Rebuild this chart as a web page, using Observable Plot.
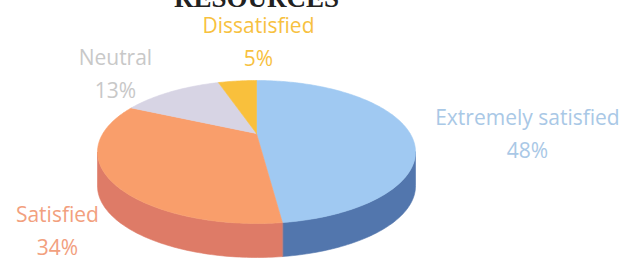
<!DOCTYPE html>
<html><head><meta charset="utf-8">
<script src="https://cdn.jsdelivr.net/npm/d3@7"></script>
<script src="https://cdn.jsdelivr.net/npm/@observablehq/plot@0.6"></script>
<style>
  html,body{margin:0;padding:0;background:#fff;}
  #chart svg{display:block;overflow:hidden;}
</style>
</head><body><div id="chart"></div>
<script>
// ---- data ----
const title = "RESOURCES";
const categories = ["Extremely satisfied", "Satisfied", "Neutral", "Dissatisfied"];
const values = [48, 34, 13, 5];

// ---- styles ----
const topColors   = ["#a0c9f2", "#f99e6b", "#d7d4e4", "#f9c03c"];
const sideColors  = ["#5276ad", "#de7b67", "#b4b0c2", "#d9a12a"];
const labelColors = ["#a9c8e6", "#f2a07e", "#c8c8c8", "#f7c13f"];
// label nudges (in radius units) relative to each slice's mid-angle rim point
const labelNudge = [[0.706, 0.14], [-0.443, 0.85], [-0.226, -0.012], [0.169, -0.222]];

// ---- layout ----
const W = 632, H = 259;
const CX = 256, CY = 151.5, RX = 159, RY = 71.5, DEPTH = 34;
const D = DEPTH / RY;
const APEX = -0.259;                  // perspective: where the pie centre lands (tanh t)
const T = Math.atanh(APEX), CH = Math.cosh(T), SH = Math.sinh(T);

// perspective (projective) map of the unit disk onto itself
function proj(a, dv) {
  const X = Math.sin(a), Y = -Math.cos(a);
  const w = Y * SH + CH;
  return {u: X / w, v: (Y * CH + SH) / w + dv};
}
const centre = {u: 0, v: SH / CH};

const arcs = d3.pie().sort(null)(values);
const step = Math.PI / 180;
function arcPts(a0, a1, dv) {
  const n = Math.max(2, Math.ceil((a1 - a0) / step));
  const pts = [];
  for (let i = 0; i <= n; i++) pts.push(proj(a0 + (a1 - a0) * i / n, dv));
  return pts;
}
const visA0 = Math.acos(APEX), visA1 = 2 * Math.PI - Math.acos(APEX);
const tops = arcs.map(a => [centre, ...arcPts(a.startAngle, a.endAngle, 0), centre]);
const sides = arcs.map(a => {
  const s = Math.max(a.startAngle, visA0), e = Math.min(a.endAngle, visA1);
  if (e <= s) return null;
  return [...arcPts(s, e, 0), ...arcPts(s, e, D).reverse()];
});

const marks = [];
sides.forEach((pts, i) => {
  if (pts) marks.push(Plot.line(pts, {x: "u", y: "v", fill: sideColors[i], stroke: sideColors[i], strokeWidth: 0.6, curve: "linear-closed"}));
});
tops.forEach((pts, i) => {
  marks.push(Plot.line(pts, {x: "u", y: "v", fill: topColors[i], stroke: topColors[i], strokeWidth: 0.6, curve: "linear-closed"}));
});
arcs.forEach((a, i) => {
  const mid = (a.startAngle + a.endAngle) / 2;
  const d = [{u: Math.sin(mid) + labelNudge[i][0], v: -Math.cos(mid) + labelNudge[i][1], t: categories[i] + "\n" + values[i] + "%"}];
  marks.push(Plot.text(d, {x: "u", y: "v", text: "t", fill: labelColors[i], fontSize: 21, fontFamily: "Open Sans", lineAnchor: "bottom", lineHeight: 1.55, textAnchor: "middle"}));
});
marks.push(Plot.text([title], {x: 0, frameAnchor: "top", text: d => d, dy: 6, lineAnchor: "bottom", fontSize: 27, fontWeight: "bold", fontFamily: "Liberation Serif", fill: "#222"}));

const plot = Plot.plot({
  width: W, height: H,
  margin: 0,
  x: {domain: [-CX / RX, (W - CX) / RX], range: [0, W], axis: null},
  y: {domain: [-CY / RY, (H - CY) / RY], range: [0, H], axis: null},
  style: {background: "#fff"},
  marks
});
document.getElementById("chart").appendChild(plot);
</script>
</body></html>
